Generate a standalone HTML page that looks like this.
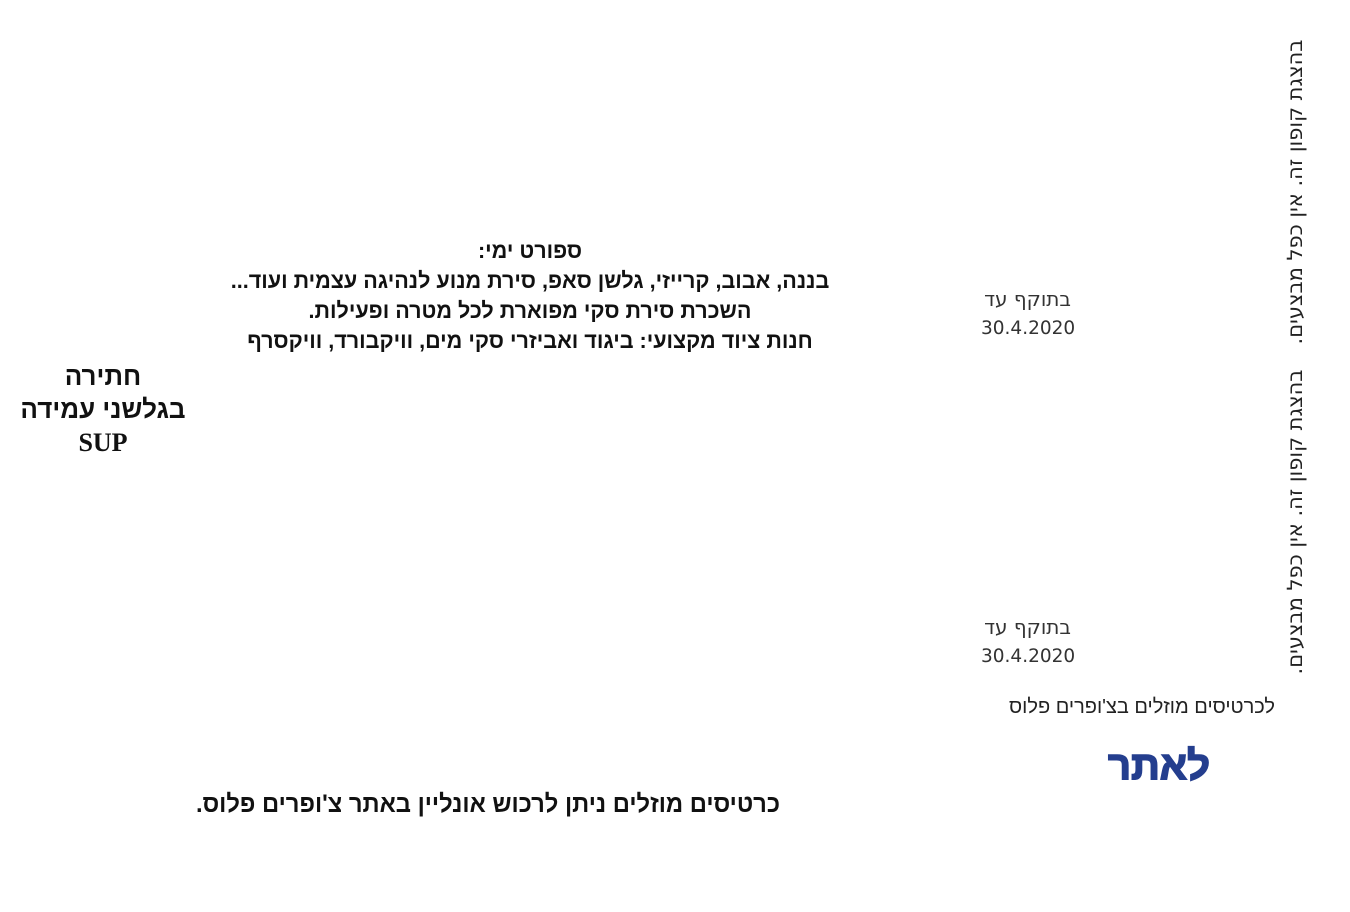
<!DOCTYPE html>
<html><head><meta charset="utf-8"><style>
html,body{margin:0;padding:0;background:#fff;}
body{width:1350px;height:912px;position:relative;overflow:hidden;font-family:"Liberation Sans","DejaVu Sans",sans-serif;}
.a{position:absolute;white-space:nowrap;direction:rtl;}
.main{left:180px;width:700px;top:236px;text-align:center;font-weight:bold;font-size:22px;line-height:30px;color:#111;}
.main div{transform:scaleX(0.98);}
.left{left:-20px;width:246px;top:360px;text-align:center;font-weight:bold;font-size:26px;line-height:33px;color:#111;}
.gray{color:#333;font-family:"DejaVu Sans",sans-serif;font-size:18.5px;line-height:30px;direction:ltr;}
.rot{left:1140px;width:310px;height:30px;line-height:30px;text-align:center;font-family:"DejaVu Sans",sans-serif;font-size:21px;color:#222;transform:rotate(-90deg);transform-origin:center;}
</style></head><body>
<div class="a main"><div>ספורט ימי:</div><div>בננה, אבוב, קרייזי, גלשן סאפ, סירת מנוע לנהיגה עצמית ועוד...</div><div>השכרת סירת סקי מפוארת לכל מטרה ופעילות.</div><div>חנות ציוד מקצועי: ביגוד ואביזרי סקי מים, וויקבורד, וויקסרף</div></div>
<div class="a left"><div>חתירה</div><div>בגלשני עמידה</div><div style="font-family:'Liberation Serif',serif">SUP</div></div>
<div class="a gray" style="left:981px;top:284px;"><div style="direction:rtl;text-align:right;width:90px;font-size:20px">בתוקף עד</div><div>30.4.2020</div></div>
<div class="a gray" style="left:981px;top:612px;"><div style="direction:rtl;text-align:right;width:90px;font-size:20px">בתוקף עד</div><div>30.4.2020</div></div>
<div class="a rot" style="top:177px;">בהצגת קופון זה. אין כפל מבצעים.</div>
<div class="a rot" style="top:507px;">בהצגת קופון זה. אין כפל מבצעים.</div>
<div class="a" style="right:75px;top:696px;font-size:20px;color:#222;">לכרטיסים מוזלים בצ'ופרים פלוס</div>
<div class="a" style="left:1100px;top:744px;width:118px;text-align:center;font-size:40px;font-weight:bold;color:#243e8e;-webkit-text-stroke:1.6px #243e8e;">לאתר</div>
<div class="a" style="left:150px;top:790px;width:676px;text-align:center;font-size:25px;font-weight:bold;color:#111;"><div style="transform:scaleX(0.95)">כרטיסים מוזלים ניתן לרכוש אונליין באתר צ'ופרים פלוס.</div></div>
</body></html>
